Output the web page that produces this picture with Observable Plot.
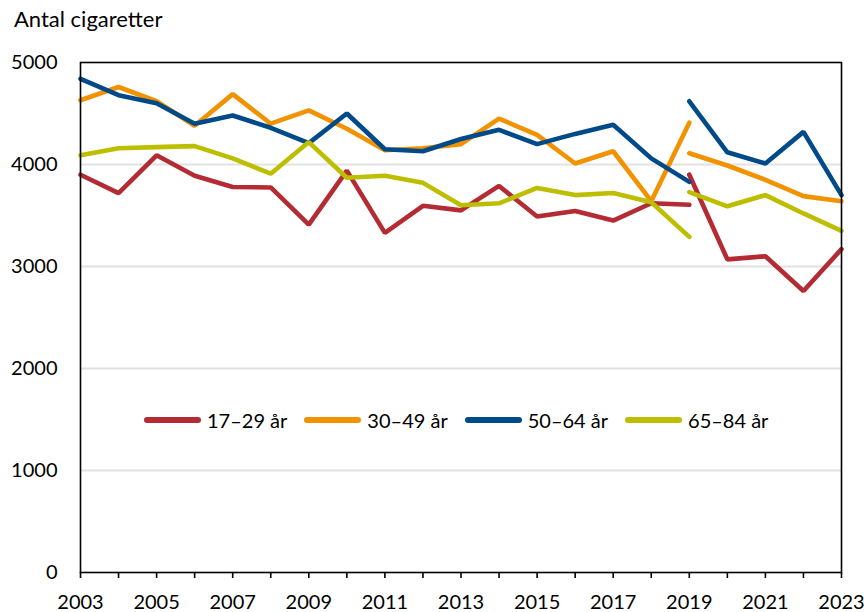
<!DOCTYPE html>
<html>
<head>
<meta charset="utf-8">
<script src="https://cdn.jsdelivr.net/npm/d3@7"></script>
<script src="https://cdn.jsdelivr.net/npm/@observablehq/plot@0.6"></script>
<style>
  html, body { margin: 0; padding: 0; background: #fff; }
  body { width: 864px; height: 612px; position: relative; overflow: hidden; font-family: Lato, "Open Sans", sans-serif; color: #000; }
  #title { position: absolute; left: 14px; top: 6px; font-size: 22px; line-height: 26px; }
  #legend { position: absolute; left: 144px; top: 405px; display: flex; gap: 17px; font-size: 20px; line-height: 30px; }
  .item { display: flex; align-items: center; gap: 6px; }
  .sw { width: 57px; height: 6px; border-radius: 3px; }
  #chart { position: absolute; left: 0; top: 0; }
</style>
</head>
<body>
<div id="chart"></div>
<div id="title">Antal cigaretter</div>
<div id="legend"></div>
<script>
const seriesNames = ["17–29 år", "30–49 år", "50–64 år", "65–84 år"];
const seriesColors = ["#b42b33", "#f39200", "#004a8a", "#bebe00"];

// two survey series: 2003–2019 and 2019–2023
const yearsA = [2003, 2004, 2005, 2006, 2007, 2008, 2009, 2010, 2011, 2012, 2013, 2014, 2015, 2016, 2017, 2018, 2019];
const yearsB = [2019, 2020, 2021, 2022, 2023];
const allYears = [2003, 2004, 2005, 2006, 2007, 2008, 2009, 2010, 2011, 2012, 2013, 2014, 2015, 2016, 2017, 2018, 2019, 2020, 2021, 2022, 2023];
const labelYears = [2003, 2005, 2007, 2009, 2011, 2013, 2015, 2017, 2019, 2021, 2023];
const yTicks = [0, 1000, 2000, 3000, 4000, 5000];

const age17_29A = [3900, 3720, 4090, 3890, 3780, 3775, 3410, 3940, 3330, 3595, 3550, 3790, 3490, 3545, 3450, 3620, 3605];
const age17_29B = [3900, 3070, 3100, 2760, 3170];
const age30_49A = [4630, 4760, 4620, 4380, 4690, 4400, 4530, 4350, 4140, 4160, 4200, 4450, 4290, 4010, 4130, 3640, 4410];
const age30_49B = [4110, 3990, 3850, 3690, 3640];
const age50_64A = [4840, 4680, 4600, 4400, 4480, 4360, 4210, 4500, 4150, 4130, 4250, 4340, 4200, 4300, 4390, 4060, 3830];
const age50_64B = [4620, 4120, 4010, 4320, 3700];
const age65_84A = [4090, 4160, 4170, 4180, 4060, 3910, 4220, 3870, 3890, 3820, 3600, 3620, 3770, 3700, 3720, 3630, 3290];
const age65_84B = [3730, 3590, 3700, 3520, 3350];

const segA = [age17_29A, age30_49A, age50_64A, age65_84A];
const segB = [age17_29B, age30_49B, age50_64B, age65_84B];

const rows = [];
seriesNames.forEach((name, i) => {
  segA[i].forEach((v, j) => rows.push({year: yearsA[j], value: v, series: name, seg: name + "A"}));
  segB[i].forEach((v, j) => rows.push({year: yearsB[j], value: v, series: name, seg: name + "B"}));
});

const chart = Plot.plot({
  width: 864,
  height: 612,
  marginTop: 62,
  marginRight: 23,
  marginBottom: 40,
  marginLeft: 80,
  style: {fontFamily: "Lato, 'Open Sans', sans-serif", fontSize: "20px", color: "#000", background: "transparent", overflow: "visible"},
  x: {domain: [2003, 2023], label: null},
  y: {domain: [0, 5000], label: null},
  color: {domain: seriesNames, range: seriesColors},
  marks: [
    Plot.gridY([1000, 2000, 3000, 4000], {stroke: "#e2e2e2", strokeOpacity: 1, strokeWidth: 2}),
    Plot.line(rows, {x: "year", y: "value", z: "seg", stroke: "series", strokeWidth: 4.6, strokeLinecap: "round", strokeLinejoin: "miter"}),
    Plot.frame({stroke: "#000", strokeWidth: 1.6}),
    Plot.axisY(yTicks, {tickSize: 0, tickPadding: 23, tickFormat: d => String(d), fontSize: 20}),
    Plot.axisX(allYears, {tickSize: 6, text: null, strokeWidth: 1.6}),
    Plot.axisX(labelYears, {tickSize: 0, tickPadding: 22, tickFormat: d => String(d), fontSize: 20})
  ]
});
document.getElementById("chart").appendChild(chart);

const legend = document.getElementById("legend");
seriesNames.forEach((name, i) => {
  const item = document.createElement("div");
  item.className = "item";
  const sw = document.createElement("div");
  sw.className = "sw";
  sw.style.background = seriesColors[i];
  const label = document.createElement("span");
  label.textContent = name;
  item.appendChild(sw);
  item.appendChild(label);
  legend.appendChild(item);
});
</script>
</body>
</html>
